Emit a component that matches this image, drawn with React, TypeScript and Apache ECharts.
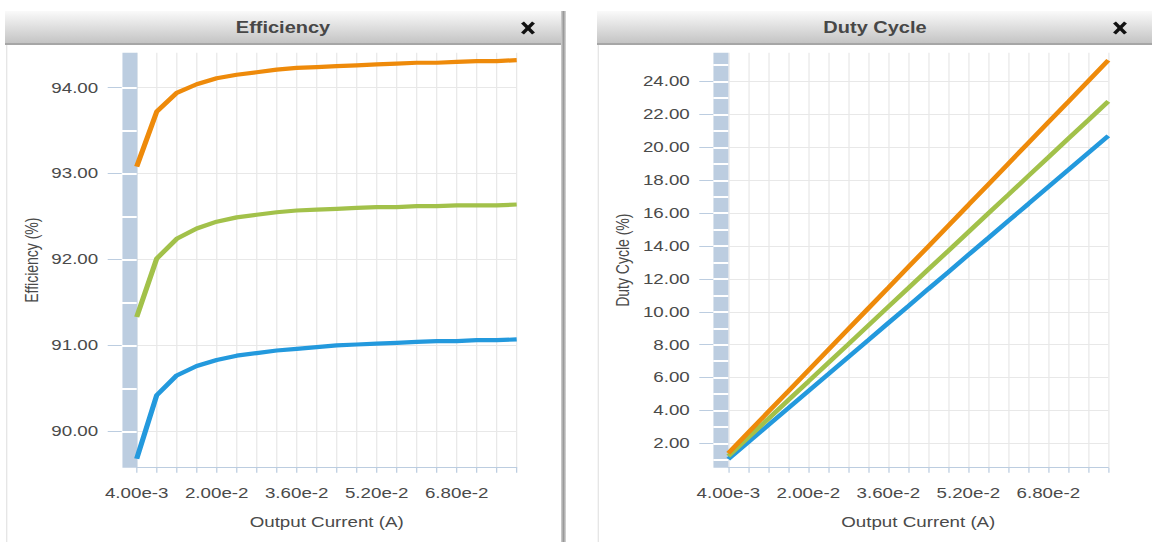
import React, { useEffect, useRef } from "react";
import * as echarts from "echarts";

// ---------- data ----------
const currents = [
  0.004, 0.008, 0.012, 0.016, 0.02, 0.024, 0.028, 0.032, 0.036, 0.04,
  0.044, 0.048, 0.052, 0.056, 0.06, 0.064, 0.068, 0.072, 0.076, 0.08,
];
const xLabelValues = [0.004, 0.02, 0.036, 0.052, 0.068];

const effOrange = [
  93.08, 93.72, 93.94, 94.04, 94.11, 94.15, 94.18, 94.21, 94.23, 94.24,
  94.25, 94.26, 94.27, 94.28, 94.29, 94.29, 94.3, 94.31, 94.31, 94.32,
];
const effGreen = [
  91.33, 92.01, 92.24, 92.36, 92.44, 92.49, 92.52, 92.55, 92.57, 92.58,
  92.59, 92.6, 92.61, 92.61, 92.62, 92.62, 92.63, 92.63, 92.63, 92.64,
];
const effBlue = [
  89.68, 90.42, 90.65, 90.76, 90.83, 90.88, 90.91, 90.94, 90.96, 90.98,
  91.0, 91.01, 91.02, 91.03, 91.04, 91.05, 91.05, 91.06, 91.06, 91.07,
];
const effRange = [89.576, 94.407];
const effTicks = [90, 91, 92, 93, 94];
const effBandMarks = [90, 90.5, 91, 91.5, 92, 92.5, 93, 93.5, 94];

const dutyOrange = [
  1.4, 2.66, 3.92, 5.17, 6.43, 7.69, 8.95, 10.21, 11.46, 12.72,
  13.98, 15.24, 16.49, 17.75, 19.01, 20.27, 21.53, 22.78, 24.04, 25.3,
];
const dutyGreen = [
  1.22, 2.36, 3.49, 4.63, 5.76, 6.9, 8.03, 9.17, 10.31, 11.44,
  12.58, 13.71, 14.85, 15.99, 17.12, 18.26, 19.39, 20.53, 21.66, 22.8,
];
const dutyBlue = [
  1.04, 2.07, 3.11, 4.14, 5.18, 6.21, 7.25, 8.28, 9.32, 10.35,
  11.39, 12.42, 13.46, 14.49, 15.53, 16.56, 17.6, 18.63, 19.67, 20.7,
];
const dutyRange = [0.52, 25.76];
const dutyTicks = [2, 4, 6, 8, 10, 12, 14, 16, 18, 20, 22, 24];
const dutyBandMarks = [
  1, 2, 3, 4, 5, 6, 7, 8, 9, 10, 11, 12, 13, 14, 15, 16, 17, 18, 19, 20, 21,
  22, 23, 24, 25,
];

const titles = ["Efficiency", "Duty Cycle"];
const yNames = ["Efficiency (%)", "Duty Cycle (%)"];
const xName = "Output Current (A)";

// ---------- style / layout ----------
const S = 1152 / 922; // horizontal stretch of the reference
const ux = (x: number) => x / S;
const FONT = '"Liberation Sans", Arial, Helvetica, sans-serif';
const BAND = "#bccde0";
const GRID = "#e8e8e8";
const TEXT = "#4a4a4a";
const ORANGE = "#ee8a0a";
const GREEN = "#a2c14a";
const BLUE = "#2399dd";

const PLOT_TOP = 52.7;
const PLOT_H = 415;
const PLOT_W = 380;

const panels = [
  { hx0: 5, hx1: 561, plotLeft: 136.7, closeX: 528, borderX: 6.7, shadow: true },
  { hx0: 597, hx1: 1153, plotLeft: 728.3, closeX: 1120, borderX: 598.3, shadow: false },
];

const charts = [
  { range: effRange, ticks: effTicks, marks: effBandMarks, series: [effBlue, effGreen, effOrange], lineW: 4.2 },
  { range: dutyRange, ticks: dutyTicks, marks: dutyBandMarks, series: [dutyBlue, dutyGreen, dutyOrange], lineW: 4.1 },
];
const seriesColors = [BLUE, GREEN, ORANGE];

function buildOption(): any {
  const grid = panels.map((p) => ({
    left: ux(p.plotLeft),
    top: PLOT_TOP,
    width: ux(PLOT_W),
    height: PLOT_H,
    containLabel: false,
    outerBoundsMode: "none",
  }));

  const xAxis = panels.map((_, i) => ({
    type: "value",
    gridIndex: i,
    min: currents[0],
    max: currents[currents.length - 1],
    axisLine: { show: true, onZero: false, lineStyle: { color: BAND, width: 1 } },
    axisTick: { show: true, length: 5, customValues: currents, lineStyle: { color: BAND, width: 1 } },
    axisLabel: {
      show: true,
      customValues: xLabelValues,
      formatter: (v: number) => v.toExponential(2),
      margin: 18,
      color: TEXT,
      fontSize: 15,
      fontFamily: FONT,
    },
    splitLine: { show: true, lineStyle: { color: GRID, width: 1 } },
    name: xName,
    nameLocation: "middle",
    nameGap: 47,
    nameTextStyle: { color: TEXT, fontSize: 15, fontFamily: FONT },
  }));

  const yAxis: any[] = [];
  charts.forEach((c, i) => {
    yAxis.push({
      type: "value",
      gridIndex: i,
      position: "left",
      offset: ux(7.5),
      min: c.range[0],
      max: c.range[1],
      axisLine: { show: true, onZero: false, lineStyle: { color: BAND, width: ux(15), cap: "butt" } },
      axisTick: { show: true, length: ux(21.5), customValues: c.ticks, lineStyle: { color: BAND, width: 1 } },
      axisLabel: {
        show: true,
        customValues: c.ticks,
        formatter: (v: number) => v.toFixed(2),
        margin: ux(31),
        color: TEXT,
        fontSize: 15,
        fontFamily: FONT,
      },
      splitLine: { show: true, lineStyle: { color: GRID, width: 1 } },
      name: yNames[i],
      nameLocation: "middle",
      nameRotate: 90,
      nameGap: 71,
      nameTextStyle: { color: TEXT, fontSize: 14, fontFamily: FONT },
    });
    yAxis.push({
      type: "value",
      gridIndex: i,
      position: "left",
      offset: 0,
      min: c.range[0],
      max: c.range[1],
      z: 5,
      axisLine: { show: false },
      axisTick: { show: true, length: ux(15), customValues: c.marks, lineStyle: { color: "#ffffff", width: 2 } },
      axisLabel: { show: false },
      splitLine: { show: false },
    });
  });

  const series: any[] = [];
  charts.forEach((c, i) => {
    c.series.forEach((vals, k) => {
      series.push({
        type: "line",
        xAxisIndex: i,
        yAxisIndex: i * 2,
        data: currents.map((x, j) => [x, vals[j]]),
        showSymbol: false,
        symbol: "none",
        silent: true,
        z: 3,
        lineStyle: { color: seriesColors[k], width: c.lineW },
        itemStyle: { color: seriesColors[k] },
      });
    });
  });

  const graphic: any[] = [];
  panels.forEach((p, i) => {
    graphic.push({
      type: "rect",
      z: 10,
      silent: true,
      shape: { x: ux(p.hx0), y: 11, width: ux(p.hx1 - p.hx0), height: 32 },
      style: {
        fill: new echarts.graphic.LinearGradient(0, 0, 0, 1, [
          { offset: 0, color: "#fafafa" },
          { offset: 1, color: "#c4c4c4" },
        ]),
      },
    });
    graphic.push({
      type: "rect",
      z: 10,
      silent: true,
      shape: { x: ux(p.hx0), y: 43, width: ux(p.hx1 - p.hx0), height: 2 },
      style: { fill: "#a6a6a6" },
    });
    graphic.push({
      type: "line",
      z: 10,
      silent: true,
      shape: { x1: ux(p.borderX), y1: 45, x2: ux(p.borderX), y2: 542 },
      style: { stroke: "#e4e4e4", lineWidth: 1 },
    });
    graphic.push({
      type: "text",
      z: 11,
      silent: true,
      x: ux((p.hx0 + p.hx1) / 2),
      y: 28,
      style: {
        text: titles[i],
        fill: "#474747",
        font: `bold 16px ${FONT}`,
        align: "center",
        verticalAlign: "middle",
      },
    });
    const cx = ux(p.closeX);
    const hw = ux(5.5);
    graphic.push({
      type: "line",
      z: 11,
      silent: true,
      shape: { x1: cx - hw, y1: 22.5, x2: cx + hw, y2: 33.5 },
      style: { stroke: "#111111", lineWidth: 3 },
    });
    graphic.push({
      type: "line",
      z: 11,
      silent: true,
      shape: { x1: cx - hw, y1: 33.5, x2: cx + hw, y2: 22.5 },
      style: { stroke: "#111111", lineWidth: 3 },
    });
    if (p.shadow) {
      graphic.push({
        type: "rect",
        z: 10,
        silent: true,
        shape: { x: ux(561), y: 11, width: ux(5), height: 542 - 11 },
        style: {
          fill: new echarts.graphic.LinearGradient(0, 0, 1, 0, [
            { offset: 0, color: "#d2d2d2" },
            { offset: 0.5, color: "#9a9a9a" },
            { offset: 1, color: "#dadada" },
          ]),
        },
      });
    }
  });

  return {
    animation: false,
    backgroundColor: "#ffffff",
    grid,
    xAxis,
    yAxis,
    series,
    graphic,
  };
}

export default function App() {
  const ref = useRef<HTMLDivElement>(null);
  useEffect(() => {
    document.body.style.margin = "0";
    const chart = echarts.init(ref.current as HTMLDivElement, undefined, { renderer: "svg" });
    chart.setOption(buildOption());
    return () => {
      chart.dispose();
    };
  }, []);
  return (
    <div
      style={{
        position: "fixed",
        left: 0,
        top: 0,
        width: 1152,
        height: 542,
        overflow: "hidden",
        background: "#ffffff",
      }}
    >
      <div
        ref={ref}
        style={{ width: 922, height: 542, transform: `scaleX(${S})`, transformOrigin: "0 0" }}
      />
    </div>
  );
}
